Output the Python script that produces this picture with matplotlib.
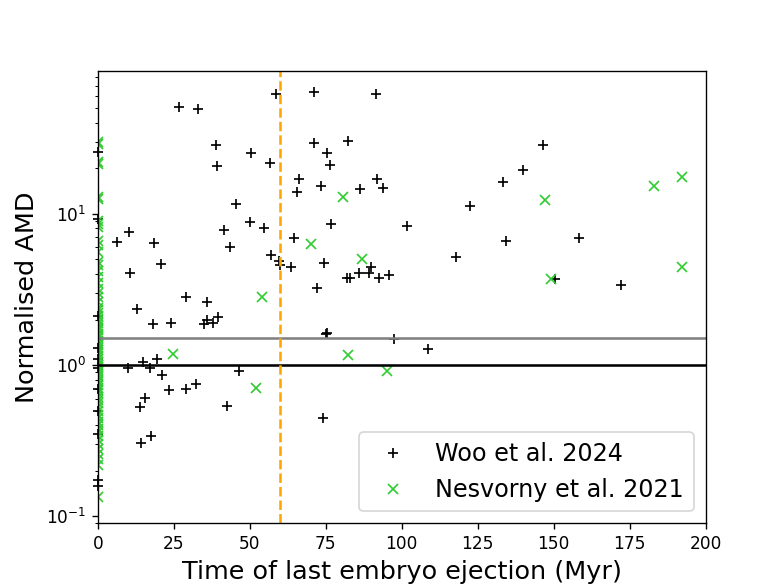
import numpy as np
import matplotlib.pyplot as plt

# Woo et al. 2024 - time of last embryo ejection (Myr) and normalised AMD
woo_t = [58.5, 26.7, 33.0, 39.0, 50.3, 39.3, 56.7, 66.1, 65.6, 45.5, 50.0, 10.3,
         41.4, 54.7, 6.2, 18.5, 43.3, 64.5, 20.8, 10.5, 57.1, 59.7, 60.0, 63.4,
         29.1, 13.0, 35.9, 18.2, 24.0, 34.9, 36.0, 37.7, 39.6, 9.8, 14.7, 17.2,
         19.4, 21.0, 46.5, 23.3, 28.9, 32.4, 15.4, 13.8, 42.5, 17.5, 14.1,
         71.0, 91.5, 71.0, 82.3, 75.5, 76.5, 73.3, 86.4, 92.0, 93.7, 133.4, 139.8,
         122.5, 76.7, 101.8, 134.4, 74.3, 90.0, 82.0, 82.9, 86.0, 89.3, 92.5, 95.9,
         117.9, 72.1, 74.9, 75.4, 97.3, 108.6, 74.1, 146.6, 158.3, 150.4, 172.0]
woo_amd = [62, 50.6, 49.3, 28.6, 25.4, 20.6, 21.8, 17.1, 14.0, 11.7, 8.85, 7.6,
           7.8, 8.0, 6.5, 6.4, 6.07, 6.97, 4.67, 4.07, 5.32, 4.89, 4.6, 4.46,
           2.82, 2.34, 2.61, 1.86, 1.91, 1.86, 2.0, 1.91, 2.08, 0.96, 1.05, 0.95,
           1.09, 0.86, 0.92, 0.68, 0.70, 0.75, 0.61, 0.53, 0.535, 0.34, 0.306,
           64.3, 62, 29.5, 30.1, 25.1, 21.0, 15.2, 14.6, 17.1, 14.9, 16.2, 19.5,
           11.2, 8.55, 8.37, 6.6, 4.76, 4.46, 3.79, 3.79, 4.05, 4.05, 3.75, 3.93,
           5.19, 3.22, 1.61, 1.64, 1.49, 1.27, 0.45, 28.5, 6.97, 3.72, 3.39]

# Woo runs with no embryo ejection (t = 0)
woo_amd_zero = [25.5, 9.3, 2.1, 1.3, 1.1, 0.95, 0.7, 0.5, 0.35, 0.175, 0.158]

# Nesvorny et al. 2021
nes_t = [54.1, 24.8, 52.1, 80.7, 70.0, 87.0, 82.2, 95.1, 147.0, 183.0, 192.1,
         149.0, 192.1]
nes_amd = [2.83, 1.19, 0.71, 13.0, 6.33, 5.04, 1.16, 0.91, 12.3, 15.3, 17.6,
           3.69, 4.46]

nes_amd_zero = [30, 29, 22, 21.5, 13, 12.5, 9, 8.6, 8.2, 6.6, 6.2, 5.6, 4.8, 4.6,
                4.2, 3.8, 3.5, 3.2, 3.0, 2.8, 2.6, 2.4, 2.3, 2.2, 2.1, 2.0, 1.9,
                1.8, 1.75, 1.7, 1.6, 1.55, 1.5, 1.45, 1.4, 1.35, 1.3, 1.25, 1.2,
                1.15, 1.1, 1.05, 1.0, 0.97, 0.93, 0.9, 0.86, 0.83, 0.8, 0.77,
                0.74, 0.71, 0.68, 0.65, 0.62, 0.59, 0.56, 0.53, 0.5, 0.47, 0.45,
                0.42, 0.4, 0.38, 0.36, 0.34, 0.32, 0.3, 0.28, 0.26, 0.24, 0.22,
                0.135]

fig, ax = plt.subplots(figsize=(6.4, 4.8), dpi=122.5)

ax.plot(np.zeros(len(woo_amd_zero)), woo_amd_zero, 'k+', clip_on=False)
ax.plot(woo_t, woo_amd, 'k+', label='Woo et al. 2024')
ax.plot(np.zeros(len(nes_amd_zero)), nes_amd_zero, 'x', color='limegreen')
ax.plot(nes_t, nes_amd, 'x', color='limegreen', label='Nesvorny et al. 2021')

ax.axhline(1.0, color='k')
ax.axhline(1.5, color='gray')
ax.axvline(60, color='orange', linestyle='--')

ax.set_yscale('log')
ax.set_xlim(0, 200)
ax.set_ylim(0.09, 88.5)
ax.set_xlabel('Time of last embryo ejection (Myr)', fontsize=15)
ax.set_ylabel('Normalised AMD', fontsize=15)
ax.legend(loc='lower right', fontsize=14)

plt.savefig('out.png')
